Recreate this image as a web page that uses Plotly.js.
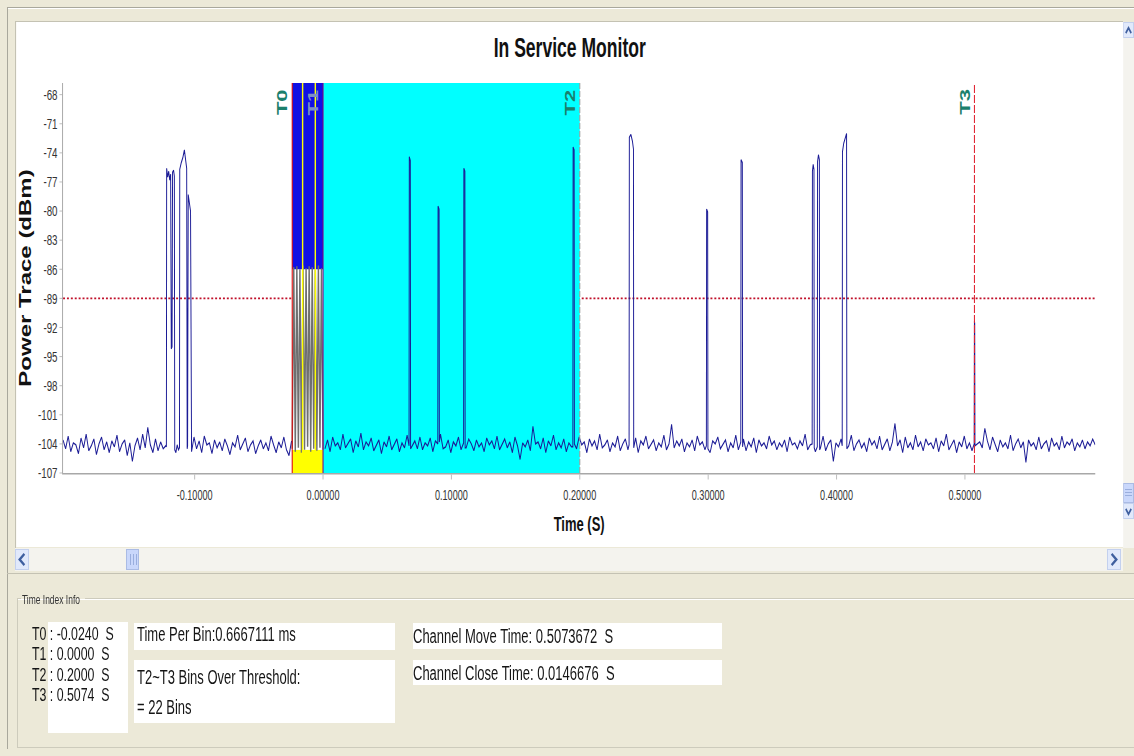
<!DOCTYPE html>
<html><head><meta charset="utf-8">
<script src="https://cdn.plot.ly/plotly-3.0.1.min.js"></script>
<style>
html,body{margin:0;padding:0;width:1134px;height:756px;overflow:hidden;background:#ECE9D8;font-family:'Liberation Sans',Arial,sans-serif;}
#chrome{position:absolute;left:0;top:0;width:1134px;height:756px;}
#stage{position:absolute;left:0;top:0;width:1745px;height:756px;transform:scaleX(0.65);transform-origin:0 0;}
.abs{position:absolute;}
.tx{position:absolute;white-space:pre;color:#151515;line-height:1;}
</style></head><body>
<div id="chrome"></div>
<div id="stage"><div id="plot" class="abs"></div></div>
<script>
// ---------------- data ----------------
const xTickVals = [-0.1, 0.0, 0.1, 0.2, 0.3, 0.4, 0.5];
const xTickText = ['-0.10000', '0.00000', '0.10000', '0.20000', '0.30000', '0.40000', '0.50000'];
const yTickVals = [-68, -71, -74, -77, -80, -83, -86, -89, -92, -95, -98, -101, -104, -107];
const yTickText = ['-68', '-71', '-74', '-77', '-80', '-83', '-86', '-89', '-92', '-95', '-98', '-101', '-104', '-107'];
const markerNames = ['T0', 'T1', 'T2', 'T3'];
const markerTimes = [-0.0240, 0.0000, 0.2000, 0.5074];
const thresholdDbm = -89;

// background trace, one sample every 2 ms
const noiseStart = -0.2025;
const noiseStep = 0.002;
const noiseDbm = [
-103.6,-104.5,-103.2,-104.8,-103.9,-104.1,-105.0,-103.4,-104.4,-103.0,-104.7,-104.2,-103.5,-105.1,-104.0,-103.3,-104.6,-103.8,-104.9,-103.7,
-104.3,-103.1,-104.8,-104.0,-103.6,-105.2,-103.9,-105.8,-104.2,-103.4,-104.6,-103.0,-104.4,-102.3,-104.1,-104.9,-103.5,-104.7,-103.8,-104.5,
-104.2,-104.6,-104.0,-104.9,-104.3,-104.8,-104.1,-104.7,-104.4,-104.9,-104.6,-103.3,-104.5,-103.7,-104.9,-103.2,-104.1,-103.9,-105.0,-103.6,
-104.4,-103.8,-104.7,-103.5,-104.2,-105.1,-103.9,-104.3,-103.1,-104.6,-104.0,-103.4,-104.8,-104.1,-103.7,-105.0,-104.2,-103.6,-104.5,-103.9,
-104.7,-103.2,-104.1,-104.9,-103.8,-104.4,-103.3,-104.6,-105.2,-103.7,-104.0,-103.5,-104.8,-103.9,-104.3,-103.1,-104.6,-104.2,-103.6,-104.9,
-104.1,-103.8,-104.5,-103.6,-104.8,-103.3,-104.2,-103.9,-104.6,-103.0,-104.4,-104.0,-103.5,-104.9,-103.7,-104.3,-102.9,-104.6,-103.8,-104.2,
-103.4,-104.7,-104.1,-103.6,-105.0,-103.8,-104.3,-103.2,-104.6,-104.0,-103.5,-104.8,-103.9,-104.4,-103.1,-104.7,-104.2,-103.7,-104.5,-103.3,
-104.6,-103.9,-104.2,-103.4,-104.8,-103.7,-104.1,-103.0,-104.5,-104.3,-103.6,-104.9,-103.8,-104.2,-103.3,-104.6,-103.9,-104.4,-103.5,-104.0,
-104.7,-103.6,-104.3,-103.9,-104.8,-103.4,-104.1,-103.7,-104.5,-103.2,-104.6,-104.0,-103.5,-104.4,-103.8,-104.9,-103.3,-104.2,-105.6,-103.9,
-104.3,-103.6,-104.7,-102.2,-104.0,-103.8,-104.5,-103.4,-104.9,-103.7,-104.2,-103.1,-104.6,-103.9,-104.4,-103.5,-104.8,-103.9,-104.3,-103.6,
-104.5,-103.3,-104.1,-103.8,-104.9,-103.5,-104.2,-103.7,-104.6,-103.0,-104.4,-104.1,-103.6,-104.8,-103.9,-104.3,-103.2,-104.7,-104.0,-103.5,
-104.6,-103.8,-104.2,-103.4,-104.9,-103.7,-104.1,-103.2,-104.5,-104.0,-103.6,-104.7,-103.9,-104.3,-103.1,-104.6,-104.0,-102.0,-104.4,-103.7,
-104.2,-103.5,-104.8,-103.9,-104.3,-103.6,-104.7,-103.2,-104.1,-103.8,-104.6,-103.4,-104.9,-103.7,-104.0,-103.3,-104.5,-104.1,-103.6,-104.8,
-103.9,-104.4,-103.1,-104.6,-104.0,-103.5,-104.7,-103.8,-104.3,-103.4,-104.9,-103.6,-104.2,-103.9,-104.5,-103.2,-104.1,-103.7,-104.6,-103.9,
-104.3,-103.6,-104.8,-103.3,-104.1,-103.9,-104.5,-103.7,-104.2,-103.0,-104.6,-104.1,-103.5,-104.8,-103.8,-104.4,-103.2,-104.7,-104.0,-103.6,
-105.8,-103.9,-104.3,-103.5,-104.6,-103.8,-104.2,-103.1,-104.7,-104.0,-103.6,-104.4,-103.9,-104.8,-103.4,-104.1,-103.7,-104.5,-103.2,-104.6,
-104.0,-103.5,-104.7,-103.8,-101.9,-104.2,-103.6,-104.9,-103.3,-104.4,-103.9,-104.6,-103.1,-104.3,-103.8,-104.7,-103.5,-104.1,-103.9,-104.5,
-103.4,-104.8,-103.7,-104.2,-103.0,-104.6,-104.1,-103.6,-104.9,-103.8,-104.3,-103.2,-104.5,-103.9,-104.7,-103.5,-104.0,-103.8,-104.4,-102.4,
-103.7,-104.6,-103.3,-104.1,-104.8,-103.6,-104.3,-103.9,-104.5,-103.1,-104.7,-104.0,-103.5,-104.4,-103.8,-105.9,-103.6,-104.2,-103.9,-104.6,
-103.3,-104.5,-104.0,-103.7,-104.8,-103.4,-104.2,-103.9,-104.6,-103.2,-104.4,-103.8,-104.1,-103.5,-104.7,-103.9,-104.3,-103.6,-104.5,-103.8,
-104.2,-103.5,-104.1
];

// T0..T1 burst, rapid on/off
const burstStart = -0.0240;
const burstStep = 0.0012;
const burstDbm = [-104.5,-85.8,-104.8,-85.7,-104.4,-86.0,-104.9,-85.6,-104.6,-85.9,-104.3,-85.7,-104.8,-85.8,-104.5,-86.0,-104.7,-85.6,-104.4,-85.9,-104.6];

// pulses (vertex times in s, levels in dBm)
const pulseTimes = [
  [-0.1220,-0.1218,-0.1210,-0.1202,-0.1194,-0.1187,-0.1182,-0.1176,-0.1172,-0.1164,-0.1158,-0.1155,-0.1146,-0.1136,-0.1126,-0.1118,-0.1116,-0.1104,-0.1092,-0.1080,-0.1070,-0.1062,-0.1058,-0.1055,-0.1050,-0.1047,-0.1040,-0.1032,-0.1028,-0.1024],
  [0.0670,0.0672,0.0680,0.0682],
  [0.0894,0.0896,0.0904,0.0906],
  [0.1095,0.1097,0.1105,0.1107],
  [0.1946,0.1948,0.1956,0.1958],
  [0.2384,0.2386,0.2398,0.2410,0.2418,0.2420],
  [0.2986,0.2988,0.2996,0.2998],
  [0.3254,0.3256,0.3266,0.3268],
  [0.3810,0.3812,0.3818,0.3824,0.3826],
  [0.3850,0.3852,0.3859,0.3866,0.3868],
  [0.4044,0.4046,0.4056,0.4068,0.4078,0.4080],
  [0.5072,0.5074,0.5076,0.5078]
];
const pulseDbm = [
  [-104.3,-75.6,-76.5,-75.9,-76.8,-76.2,-94.2,-94.0,-76.0,-75.8,-76.4,-104.6,-104.9,-104.1,-104.6,-104.4,-75.7,-75.0,-74.5,-73.7,-74.6,-75.6,-104.5,-104.2,-78.3,-78.6,-79.1,-80.0,-92.1,-104.8],
  [-104.2,-74.4,-74.8,-104.5],
  [-104.0,-79.5,-79.8,-103.8],
  [-103.9,-75.6,-75.9,-104.4],
  [-104.3,-73.4,-73.7,-104.0],
  [-104.1,-72.4,-72.1,-72.8,-73.6,-104.4],
  [-104.2,-79.8,-80.1,-104.5],
  [-103.8,-74.7,-75.0,-104.3],
  [-104.0,-75.9,-75.2,-75.7,-104.4],
  [-104.3,-74.9,-74.2,-74.7,-104.6],
  [-104.2,-73.9,-73.0,-72.4,-72.0,-104.5],
  [-104.0,-91.3,-91.6,-104.2]
];

const infoTLines = ['T0 : -0.0240  S', 'T1 : 0.0000  S', 'T2 : 0.2000  S', 'T3 : 0.5074  S'];
const infoBinText = 'Time Per Bin:0.6667111 ms';
const infoOverLines = ['T2~T3 Bins Over Threshold:', '= 22 Bins'];
const infoMoveText = 'Channel Move Time: 0.5073672  S';
const infoCloseText = 'Channel Close Time: 0.0146676  S';

// ---------------- page chrome ----------------
const S = 0.65;
const FONT = 'Liberation Sans, Arial, sans-serif';
const chrome = document.getElementById('chrome');
const stage = document.getElementById('stage');
function rect(x, y, w, h, css) {
  const d = document.createElement('div');
  d.className = 'abs';
  d.style.cssText = `left:${x}px;top:${y}px;width:${w}px;height:${h}px;` + (css || '');
  chrome.appendChild(d);
  return d;
}
function text(x, yc, str, size, css) {
  const d = document.createElement('div');
  d.className = 'tx';
  d.textContent = str;
  d.style.left = (x / S) + 'px';
  d.style.top = (yc - size * 0.49) + 'px';
  d.style.fontSize = size + 'px';
  if (css) d.style.cssText += css;
  stage.appendChild(d);
}
function chevron(x, y, w, h, dir) {
  const d = rect(x, y, w, h, '');
  const pts = {up: '2,7 5,3 8,7', down: '2,3 5,7 8,3', left: '7,2 3,6 7,10', right: '3,2 7,6 3,10'}[dir];
  const vb = (dir === 'up' || dir === 'down') ? '0 0 10 10' : '0 0 10 12';
  d.innerHTML = `<svg width="${w}" height="${h}" viewBox="${vb}" preserveAspectRatio="none"><polyline points="${pts}" fill="none" stroke="#3f5f9f" stroke-width="1.8"/></svg>`;
}
// outer frame
rect(7, 7, 1127, 1, 'background:#a9a89c');
rect(7, 7, 1, 742, 'background:#a9a89c');
rect(8, 8, 1126, 1, 'background:#ffffff');
rect(15, 21, 1108, 1, 'background:#c4c2b3');
rect(15, 21, 1, 527, 'background:#c4c2b3');
// vertical scrollbar
rect(1123, 22, 11, 526, 'background:#f4f3ee');
rect(1123, 22, 11, 16, 'background:#e1e9fb;border:1px solid #c3d0ee;box-sizing:border-box');
chevron(1124, 23, 9, 13, 'up');
rect(1123, 483, 11, 20, 'background:#c9d7fb;border:1px solid #aabbe4;box-sizing:border-box');
rect(1125, 489, 7, 1, 'background:#9aaedd'); rect(1125, 492, 7, 1, 'background:#9aaedd'); rect(1125, 495, 7, 1, 'background:#9aaedd');
rect(1123, 503, 11, 16, 'background:#e1e9fb;border:1px solid #c3d0ee;box-sizing:border-box');
chevron(1124, 504, 9, 13, 'down');
// horizontal scrollbar
rect(15, 548, 1108, 23, 'background:#f4f3ee');
rect(15, 549, 14, 21, 'background:#e1e9fb;border:1px solid #c3d0ee;box-sizing:border-box');
chevron(16, 551, 12, 17, 'left');
rect(126, 549, 13, 21, 'background:#c9d7fb;border:1px solid #aabbe4;box-sizing:border-box');
rect(130, 554, 1, 11, 'background:#9aaedd'); rect(133, 554, 1, 11, 'background:#9aaedd'); rect(136, 554, 1, 11, 'background:#9aaedd');
rect(1107, 549, 14, 21, 'background:#e1e9fb;border:1px solid #c3d0ee;box-sizing:border-box');
chevron(1108, 551, 12, 17, 'right');
rect(7, 573, 1127, 1, 'background:#c4c2b3');
// group box
rect(17, 598, 4, 1, 'background:#cdcbbc');
rect(85, 598, 1049, 1, 'background:#cdcbbc');
rect(17, 598, 1, 150, 'background:#cdcbbc');
rect(17, 747, 1117, 1, 'background:#cdcbbc');
rect(18, 599, 1116, 1, 'background:#ffffff');
// white fields
rect(48, 622, 80, 111, 'background:#ffffff');
rect(134, 623, 261, 27, 'background:#ffffff');
rect(134, 660, 261, 63, 'background:#ffffff');
rect(413, 623, 309, 26, 'background:#ffffff');
rect(413, 660, 309, 25, 'background:#ffffff');

text(22, 599, 'Time Index Info', 13, 'color:#333;');
const tRowY = [633, 653.5, 674, 694.5];
infoTLines.forEach((s, i) => text(32, tRowY[i], s, 19));
text(137, 634, infoBinText, 20);
text(137, 677, infoOverLines[0], 20);
text(137, 707, infoOverLines[1], 20);
text(413, 636, infoMoveText, 20);
text(413, 673, infoCloseText, 20);

// ---------------- chart ----------------
const T0 = markerTimes[0], T1 = markerTimes[1], T2 = markerTimes[2], T3 = markerTimes[3];
const pulses = pulseTimes.map((ts, k) => ({t0: Math.min(...ts), t1: Math.max(...ts), ts: ts, vs: pulseDbm[k]}));
const pts = [];
noiseDbm.forEach((v, i) => {
  const t = noiseStart + i * noiseStep;
  if (t >= T0 && t <= T1) return;
  if (pulses.some(p => t >= p.t0 && t <= p.t1)) return;
  pts.push([t, v]);
});
pulses.forEach(p => p.ts.forEach((t, j) => pts.push([t, p.vs[j]])));
pts.sort((a, b) => a[0] - b[0]);
const mx = [], my = [];
let gap = false;
pts.forEach(([t, v]) => {
  if (!gap && t > T1) { mx.push(null); my.push(null); gap = true; }
  mx.push(t); my.push(v);
});
const bx = burstDbm.map((_, i) => burstStart + i * burstStep);

const traces = [
  {type: 'scatter', mode: 'lines', x: bx, y: burstDbm, line: {color: '#6f6f6f', width: 2.2}, hoverinfo: 'skip'},
  {type: 'scatter', mode: 'lines', x: mx, y: my, line: {color: '#1c1c96', width: 1.5}, connectgaps: false, hoverinfo: 'skip'}
];

const yTop = -66.8, yBot = -107;
const shapes = [
  {type: 'line', xref: 'paper', yref: 'y', x0: 0, x1: 1, y0: thresholdDbm, y1: thresholdDbm, line: {color: '#c0102a', width: 1.6, dash: 'dot'}, layer: 'below'},
  {type: 'rect', xref: 'x', yref: 'paper', x0: T1, x1: T2, y0: 0, y1: 1, fillcolor: '#00FFFF', line: {width: 0}, layer: 'below'},
  {type: 'rect', xref: 'x', yref: 'y', x0: T0, x1: T1, y0: yBot, y1: -104.6, fillcolor: '#FFFF00', line: {width: 0}, layer: 'below'},
  {type: 'rect', xref: 'x', yref: 'y', x0: T0, x1: T1, y0: -104.6, y1: -86.0, fillcolor: '#FFFFFF', line: {width: 0}, layer: 'below'},
  {type: 'rect', xref: 'x', yref: 'y', x0: T0, x1: T1, y0: -86.0, y1: yTop, fillcolor: '#1010E4', line: {width: 0}, layer: 'below'},
  {type: 'line', xref: 'x', yref: 'paper', x0: -0.0159, x1: -0.0159, y0: 0, y1: 1, line: {color: '#FFFF00', width: 2.2}},
  {type: 'line', xref: 'x', yref: 'paper', x0: -0.0060, x1: -0.0060, y0: 0, y1: 1, line: {color: '#FFFF00', width: 2.2}},
  {type: 'line', xref: 'x', yref: 'paper', x0: T0, x1: T0, y0: 0, y1: 1, line: {color: '#e00000', width: 1.6}},
  {type: 'line', xref: 'x', yref: 'paper', x0: T1, x1: T1, y0: 0, y1: 1, line: {color: '#800080', width: 1.6}},
  {type: 'line', xref: 'x', yref: 'paper', x0: T2, x1: T2, y0: 0, y1: 1, line: {color: '#9c9c9c', width: 1.6, dash: '6px,2px'}},
  {type: 'line', xref: 'x', yref: 'paper', x0: T3, x1: T3, y0: 0, y1: 1, line: {color: '#e0202e', width: 1.6, dash: '8px,2px'}}
];
const labelColors = ['#1b806c', '#7d8fc6', '#1b806c', '#1b806c'];
const annotations = markerNames.map((n, i) => ({
  text: '<b>' + n + '</b>', x: markerTimes[i], xref: 'x', y: 1, yref: 'paper',
  xanchor: 'right', yanchor: 'top', textangle: -90, showarrow: false,
  xshift: -1, yshift: -4, font: {family: FONT, size: 22, color: labelColors[i]}
}));

const PX = 16, PY = 22, PW = (1123 - 16) / S, PH = 525;
const plotDiv = document.getElementById('plot');
plotDiv.style.left = (PX / S) + 'px';
plotDiv.style.top = PY + 'px';
plotDiv.style.width = PW + 'px';
plotDiv.style.height = PH + 'px';

const layout = {
  width: PW, height: PH,
  margin: {l: (62.5 - 16) / S, r: (1123 - 1095) / S, t: 82.7 - 22, b: 547 - 472.7, pad: 0},
  paper_bgcolor: '#ffffff', plot_bgcolor: '#ffffff',
  showlegend: false, hovermode: false,
  title: {text: '<b>In Service Monitor</b>', font: {family: FONT, size: 27, color: '#111111'},
          x: 0.5, xref: 'container', xanchor: 'center', y: 1 - 26 / 525, yref: 'container', yanchor: 'middle'},
  xaxis: {range: [noiseStart, 0.6015], tickmode: 'array', tickvals: xTickVals, ticktext: xTickText,
          ticks: 'outside', ticklen: 5, tickwidth: 1, tickcolor: '#b0b0b0', showline: true, linecolor: '#a8a8a8', linewidth: 1.5,
          showgrid: false, zeroline: false, tickfont: {family: FONT, size: 14, color: '#333333'}, ticklabelstandoff: 4,
          title: {text: '<b>Time (S)</b>', font: {family: FONT, size: 20, color: '#111111'}, standoff: 14}},
  yaxis: {range: [yBot, yTop], tickmode: 'array', tickvals: yTickVals, ticktext: yTickText,
          ticks: 'outside', ticklen: 4, tickwidth: 1, tickcolor: '#b0b0b0', showline: true, linecolor: '#a8a8a8', linewidth: 1.5,
          showgrid: false, zeroline: false, tickfont: {family: FONT, size: 15, color: '#333333'},
          title: {text: '<b>Power Trace (dBm)</b>', font: {family: FONT, size: 24, color: '#111111'}, standoff: 6}},
  shapes: shapes, annotations: annotations
};
Plotly.newPlot(plotDiv, traces, layout, {staticPlot: true, displayModeBar: false});
</script>
</body></html>
